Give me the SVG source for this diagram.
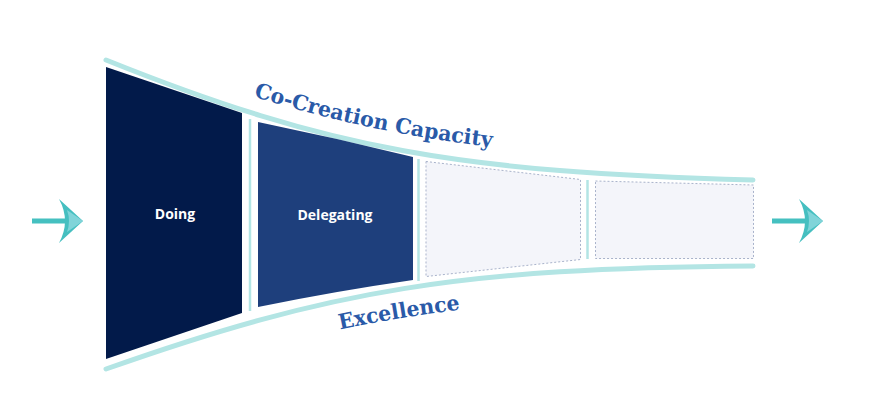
<svg xmlns="http://www.w3.org/2000/svg" width="880" height="414" viewBox="0 0 880 414">
<defs>
<style>
.rail{fill:none;stroke:#b3e5e4;stroke-width:5;stroke-linecap:round}
.div{stroke:#b3e5e4;stroke-width:2.5}
.empty{fill:#f4f5fa;stroke:#a9b3cb;stroke-width:1;stroke-dasharray:2 2}
.lbl{font-family:"Open Sans","Liberation Sans",sans-serif;font-weight:bold;font-size:14px;fill:#ffffff;text-anchor:middle}
.slab{font-family:"DejaVu Serif","Liberation Serif",serif;font-weight:bold;font-size:21px;fill:#2a5aa8}
.ashaft{fill:#45c0c0}
.adark{fill:#45bfc0}
.alight{fill:#80d4d9}
</style>
<path id="topText" d="M106,43 C330,133 460,155 753,163"/>
<path id="botText" d="M106,398 C330,319 460,297 753,295"/>
<g id="arrowShape">
<rect class="ashaft" x="0" y="-2.5" width="35" height="5"/>
<path class="adark" d="M27,-22 L51,0 L27,22 Q39,0 27,-22 Z"/>
<path class="alight" d="M35,-11 L51,0 L35,11 Q39,0 35,-11 Z"/>
</g>
</defs>
<rect width="880" height="414" fill="#ffffff"/>
<g id="connectors">
<path class="rail" d="M106,60 C330,150 460,172 753,180"/>
<path class="rail" d="M106,369 C330,290 460,268 753,266"/>
<line class="div" x1="250" y1="119" x2="250" y2="311"/>
<line class="div" x1="418.5" y1="159" x2="418.5" y2="281"/>
<line class="div" x1="587.5" y1="180" x2="587.5" y2="259"/>
</g>
<g id="arrow-in"><use href="#arrowShape" x="32" y="221"/></g>
<g id="arrow-out"><use href="#arrowShape" x="772" y="221"/></g>
<g id="doing">
<path d="M106,67 L242,113 L242,313 L106,359 Z" fill="#021a4a"/>
<text class="lbl" x="175" y="219">Doing</text>
</g>
<g id="delegating">
<path d="M258,122 Q336,138 413,157 L413,280 Q336,291 258,307 Z" fill="#1e3f7c"/>
<text class="lbl" x="335" y="220">Delegating</text>
</g>
<g id="stage3">
<path class="empty" d="M426,161.5 L580.5,179.5 L580.5,259.5 L426,276.5 Z"/>
</g>
<g id="stage4">
<path class="empty" d="M595.5,181 L753.5,185 L753.5,258.5 L595.5,258.5 Z"/>
</g>
<g id="label-cocreation">
<text class="slab"><textPath href="#topText" startOffset="157" textLength="244" lengthAdjust="spacingAndGlyphs">Co-Creation Capacity</textPath></text>
</g>
<g id="label-excellence">
<text class="slab"><textPath href="#botText" startOffset="244" textLength="122" lengthAdjust="spacingAndGlyphs">Excellence</textPath></text>
</g>
</svg>
